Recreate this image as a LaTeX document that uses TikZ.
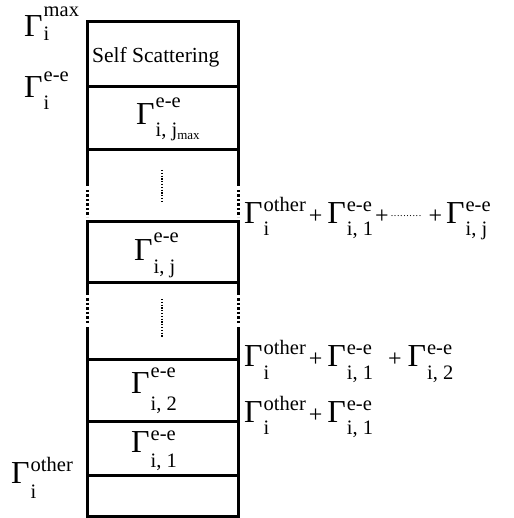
\documentclass[tikz,border=0pt]{standalone}
\usepackage{fontspec}
\setmainfont{Liberation Serif}
% script size for super- and subscripts
\newcommand\scr{\fontsize{20.5}{20.5}\selectfont}
% Gamma with a superscript (#3) and subscript (#4); #1/#2 are their raise amounts
\NewDocumentCommand\GG{O{12pt}O{-12pt}mm}{\mbox{{\fontsize{32}{32}\selectfont Γ}\kern1pt\sbox0{\scr #3}\sbox2{\scr #4}\rlap{\raisebox{#1}{\usebox0}}\raisebox{#2}{\usebox2}\ifdim\wd0>\wd2 \kern\dimexpr\wd0-\wd2\relax\fi}}
\newcommand\plus{{\fontsize{24}{24}\selectfont +}}
\newcommand\dotrun{\raisebox{6pt}{\fontsize{10}{10}\selectfont\hbox to 31pt{\xleaders\hbox to 3.1pt{\hss.\hss}\hfill}}}
\begin{document}
\begin{tikzpicture}[x=1pt,y=-1pt,
  rule/.style={line width=3pt, line cap=rect},
  gap/.style={line width=3pt, dash pattern=on 2.5pt off 2pt},
  mid/.style={line width=1.3pt, dash pattern=on 1.2pt off 1.6pt},
  lbl/.style={anchor=base west, inner sep=0pt}]
\useasboundingbox (0,0) rectangle (513,518);

% horizontal dividers of the column
\foreach \y in {22,87,150,222,282,359,421,475,516}
  \draw[rule] (87,\y) -- (238,\y);

% sides, broken where the column is elided
\foreach \x in {87,238} {
  \draw[rule] (\x,22) -- (\x,185);
  \draw[gap] (\x,190) -- (\x,217);
  \draw[rule] (\x,222) -- (\x,293);
  \draw[gap] (\x,298) -- (\x,323);
  \draw[rule] (\x,328) -- (\x,516);
}

% vertical ellipses inside the elided cells
\draw[mid] (162,170) -- (162,202);
\draw[mid] (162,299) -- (162,337);

% cell contents
\node[lbl] (self) at (92,63) {\fontsize{21.5}{22}\selectfont Self Scattering};
\node[lbl] (gjmax) at (136,125) {\GG[17pt][-12pt]{e-e}{i, j\raisebox{-3pt}{\fontsize{13}{13}\selectfont max}}};
\node[lbl] (gj) at (134,260) {\GG[18pt][-13pt]{e-e}{i, j}};
\node[lbl] (g2) at (131,393) {\GG[16pt][-17pt]{e-e}{i, 2}};
\node[lbl] (g1) at (131,452) {\GG[12pt][-15pt]{e-e}{i, 1}};

% levels on the left
\node[lbl] (lmax) at (24,37) {\GG[20pt][-4pt]{max}{i}};
\node[lbl] (lee) at (24,98) {\GG[16pt][-12pt]{e-e}{i}};
\node[lbl] (loth) at (11,483) {\GG[12pt][-15pt]{other}{i}};

% cumulative sums on the right
\node[lbl] (rj) at (244,223) {\GG{other}{i}\hspace{3pt}\plus\hspace{5pt}\GG{e-e}{i, 1}\hspace{2pt}\plus\hspace{2pt}\dotrun\hspace{7pt}\plus\hspace{4pt}\GG{e-e}{i, j}};
\node[lbl] (r2) at (244,366) {\GG[12pt][-13pt]{other}{i}\hspace{3pt}\plus\hspace{5pt}\GG[12pt][-13pt]{e-e}{i, 1}\hspace{15pt}\plus\hspace{6pt}\GG[12pt][-13pt]{e-e}{i, 2}};
\node[lbl] (r1) at (244,422) {\GG[12pt][-12pt]{other}{i}\hspace{3pt}\plus\hspace{5pt}\GG[12pt][-12pt]{e-e}{i, 1}};
\end{tikzpicture}
\end{document}
